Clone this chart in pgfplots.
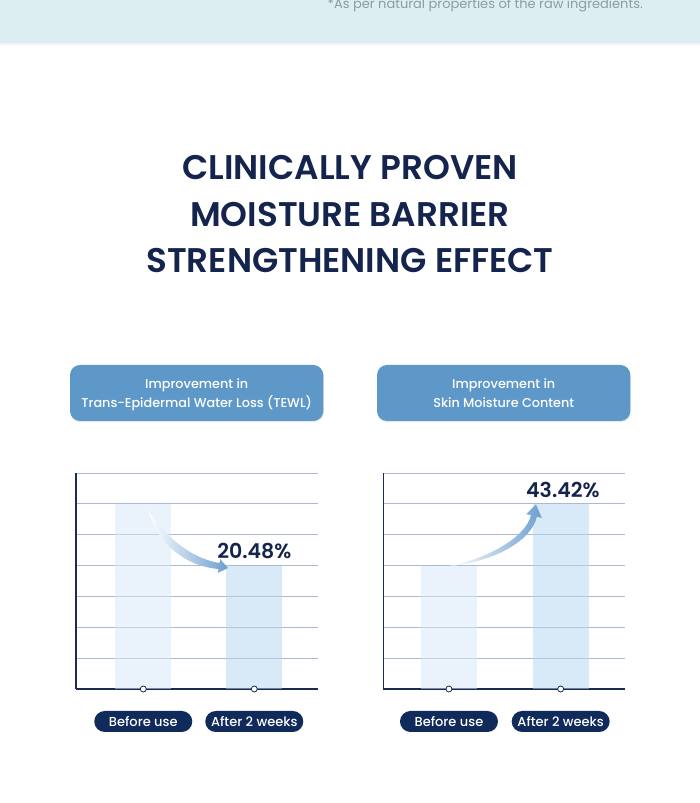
\documentclass[border=0pt]{standalone}
\usepackage{fontspec}
\usepackage{pgfplots}
\pgfplotsset{compat=1.18}
\setmainfont{Poppins}
\newfontfamily\medfont{Poppins Medium}
\newfontfamily\semifont{Poppins SemiBold}

\definecolor{navy}{HTML}{14244D}
\definecolor{pill}{HTML}{0F2A5B}
\definecolor{axisc}{HTML}{1B2B52}
\definecolor{gridc}{HTML}{ABBACD}
\definecolor{barA}{HTML}{D7E9FB}
\definecolor{barB}{HTML}{B3D5F3}
\definecolor{header}{HTML}{5D98C9}
\definecolor{band}{HTML}{DDEEF2}
\definecolor{footgray}{HTML}{8D9BA4}
\definecolor{arrowc}{HTML}{6C9FD0}

\pgfplotsset{
  chart/.style={
    scale only axis,
    height=216pt,
    ymin=0, ymax=7,
    axis x line=bottom, axis y line=left,
    axis line style={draw=axisc, line width=1.3pt, -},
    xtick={1,2},
    xticklabels={Before use, After 2 weeks},
    ytick={1,2,3,4,5,6,7},
    yticklabels={},
    ymajorgrids,
    grid style={draw=gridc, line width=0.9pt},
    major tick length=0pt,
    xticklabel style={fill=pill, text=white, rounded corners=10.5pt,
      minimum height=21pt, minimum width=98pt, inner xsep=4pt, inner ysep=0pt,
      text height=9.5pt, text depth=0pt,
      anchor=center, yshift=-32.5pt,
      font=\medfont\fontsize{13}{15}\selectfont},
    clip=false,
  },
  before/.style={ybar, bar width=56pt, bar shift=0pt, draw=none,
    fill=barA, fill opacity=0.5},
  after/.style={ybar, bar width=56pt, bar shift=0pt, draw=none,
    fill=barB, fill opacity=0.5},
  dots/.style={only marks, mark=*, mark size=3pt,
    mark options={fill=white, draw=axisc, line width=0.8pt}},
}

\begin{document}
\begin{tikzpicture}[x=1pt, y=1pt]
\fill[white] (0,0) rectangle (700,803);

% top band
\fill[band] (0,760) rectangle (700,803);
\fill[black, opacity=0.04] (0,758) rectangle (700,760);

% title
\begin{scope}[every node/.style={anchor=base, text=navy, inner sep=0pt,
    font=\semifont\fontsize{34.2}{36}\selectfont}]
  \node at (350,623) {CLINICALLY PROVEN};
  \node at (350,576) {MOISTURE BARRIER};
  \node at (350,530) {STRENGTHENING EFFECT};
\end{scope}

% header boxes
\fill[black, opacity=0.08, rounded corners=10pt] (70.5,380.5) rectangle (323.8,436.5);
\fill[header, rounded corners=10pt] (70,382) rectangle (323.3,438);
\fill[black, opacity=0.08, rounded corners=10pt] (377.5,380.5) rectangle (630.8,436.5);
\fill[header, rounded corners=10pt] (377,382) rectangle (630.3,438);
\begin{scope}[every node/.style={anchor=base, text=white, inner sep=0pt,
    font=\medfont\fontsize{12.8}{14}\selectfont}]
  \node at (196.7,414) {Improvement in};
  \node at (196.7,395) {Trans-Epidermal Water Loss (TEWL)};
  \node at (503.7,414) {Improvement in};
  \node at (503.7,395) {Skin Moisture Content};
\end{scope}

% TEWL chart: lower is better
\begin{axis}[chart, at={(76pt,114pt)}, anchor=south west, width=242pt,
  xmin=0.394, xmax=2.574]
  \addplot[before] coordinates {(1,6)};
  \addplot[after] coordinates {(2,4)};
  \shade[left color=white, right color=arrowc]
    (1.043,5.801) .. controls (1.178,5.056) and (1.403,4.245) .. (1.687,4.083)
    -- (1.693,4.210) -- (1.763,3.921) -- (1.671,3.762) -- (1.678,3.889)
    .. controls (1.358,3.986) and (1.115,4.796) .. (1.043,5.801) -- cycle;
  \node[anchor=base, text=navy, inner sep=0pt,
    font=\semifont\fontsize{20.5}{22}\selectfont] at (2,4) [yshift=7pt] {20.48\%};
  \addplot[dots] coordinates {(1,0) (2,0)};
\end{axis}

% skin moisture chart: higher is better
\begin{axis}[chart, at={(383.3pt,114pt)}, anchor=south west, width=241.7pt,
  xmin=0.412, xmax=2.576]
  \addplot[before] coordinates {(1,4)};
  \addplot[after] coordinates {(2,6)};
  \shade[left color=white, right color=arrowc]
    (1.009,3.986) .. controls (1.385,4.116) and (1.734,4.764) .. (1.787,5.584)
    -- (1.831,5.545) -- (1.779,5.982) -- (1.691,5.668) -- (1.735,5.629)
    .. controls (1.681,4.894) and (1.349,4.245) .. (1.009,3.986) -- cycle;
  \node[anchor=base, text=navy, inner sep=0pt,
    font=\semifont\fontsize{20.5}{22}\selectfont] at (2.02,6) [yshift=6pt] {43.42\%};
  \addplot[dots] coordinates {(1,0) (2,0)};
\end{axis}

% footnote, cut by the top edge of the page
\path[use as bounding box] (0,0) rectangle (700,803);
\begin{scope}
  \clip (0,0) rectangle (700,803);
  \node[anchor=base east, text=footgray, inner sep=0pt,
    font=\fontsize{13}{16}\selectfont] at (643,794)
    {*As per natural properties of the raw ingredients.};
\end{scope}
\end{tikzpicture}
\end{document}
